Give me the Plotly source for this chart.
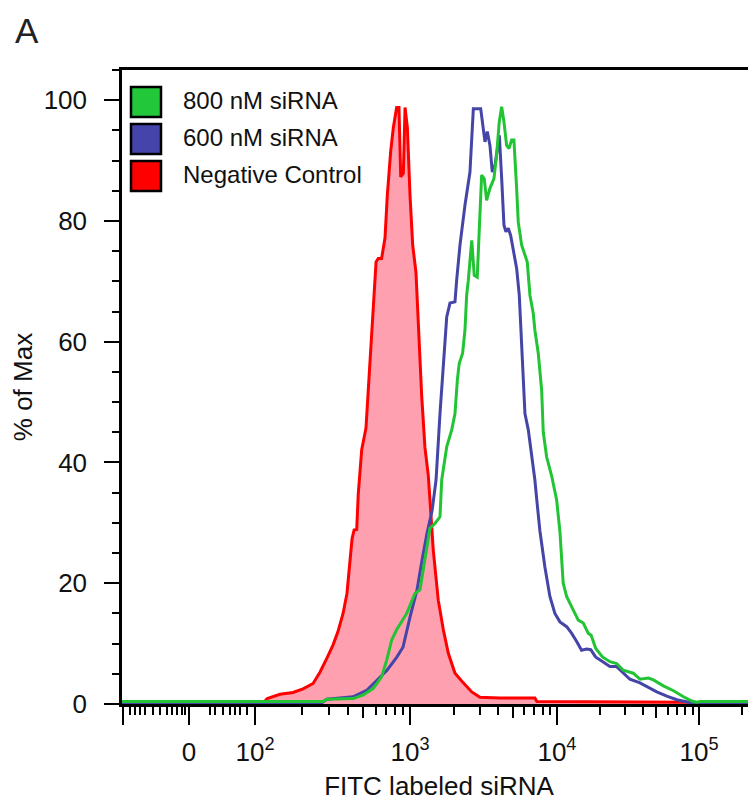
import numpy as np
import plotly.graph_objects as go

# ---------------- data (FITC intensity, % of max) ----------------
neg_fitc = [-105, 111, 120, 145, 176, 204, 237, 263, 291, 319, 343, 370, 392, 410, 423, 436,
            453, 464, 488, 520, 566, 604, 624, 656, 690, 714, 750, 780, 820, 849, 871, 906,
            929, 962, 1000, 1043, 1098, 1138, 1200, 1264, 1331, 1367, 1440, 1557, 1686, 1823,
            2024, 2306, 2631, 2995, 4093, 7079, 7305, 86500, 93750, 250000]
neg_pct = [0, 0, 0.9, 1.6, 1.9, 2.5, 3.4, 5.3, 7.6, 9.8, 12.0, 15.0, 18.3, 23.3, 27.4, 28.8,
           28.9, 34.9, 42.1, 45.7, 62.3, 73.2, 73.8, 73.8, 77.2, 84.3, 91.4, 95.4, 98.8, 98.8, 87.3, 87.9,
           98.8, 95.4, 84.3, 76.0, 71.5, 62.3, 51.2, 42.5, 37.9, 33.8, 25.5, 17.2, 12.3, 8.4,
           5.1, 3.5, 2.0, 1.1, 1.0, 1.0, 0.4, 0.3, 0, 0]

s600_fitc = [-105, 263, 291, 429, 528, 613, 711, 824, 901, 1000, 1116, 1207, 1306, 1413, 1504,
             1600, 1686, 1778, 1871, 2024, 2078, 2188, 2366, 2559, 2698, 2844, 3027, 3238, 3357,
             3500, 3631, 3786, 4055, 4207, 4360, 4498, 4663, 4842, 5045, 5321, 5542, 5754, 6058,
             6383, 6730, 7079, 7278, 7656, 8279, 8954, 9683, 10500, 11700, 12700, 13800, 14900,
             16200, 17300, 18700, 20900, 23600, 26300, 29300, 32600, 38400, 42900, 50400, 59300,
             69700, 84200, 89400, 250000]
s600_pct = [0, 0, 0.8, 1.2, 2.3, 4.0, 5.6, 7.8, 9.4, 14.4, 18.9, 23.8, 28.3, 32.0, 37.1,
            48.1, 56.4, 64.1, 66.4, 66.6, 70.2, 76.0, 82.6, 88.1, 98.6, 98.6, 98.6, 93.1, 94.8,
            92.5, 88.1, 89.2, 94.2, 87.0, 79.3, 78.2, 78.8, 77.6, 74.9, 72.1, 67.7, 59.2, 48.1,
            45.4, 41.5, 37.1, 34.0, 28.7, 22.7, 17.8, 15.0, 13.6, 12.8, 11.7, 10.3, 8.9,
            9.1, 9.0, 7.8, 7.0, 6.2, 6.2, 5.1, 4.1, 3.5, 2.9, 2.0, 1.3,
            0.7, 0.3, 0, 0]

s800_fitc = [-105, 275, 290, 431, 500, 580, 656, 708, 762, 820, 952, 1081, 1169, 1264, 1367,
             1479, 1600, 1644, 1778, 1923, 2024, 2099, 2163, 2281, 2366, 2430, 2494, 2631, 2737,
             2868, 3073, 3201, 3322, 3500, 3726, 3886, 4049, 4207, 4360, 4547, 4714, 4917, 5097,
             5316, 5456, 5754, 6058, 6281, 6551, 6899, 7079, 7462, 7870, 8072, 8511, 9204, 9953,
             10500, 11070, 11700, 12700, 14130, 15320, 16630, 17400, 18760, 20900, 23600, 26300,
             29300, 34400, 38400, 44000, 47700, 56100, 66100, 77700, 89000, 96400, 101500, 250000]
s800_pct = [0.4, 0.4, 0.8, 0.9, 1.5, 2.6, 4.5, 7.3, 10.6, 12.3, 15.0, 18.3, 18.9, 24.4, 29.1,
            29.9, 31.0, 37.1, 42.6, 45.4, 48.1, 53.6, 56.4, 58.1, 61.9, 67.7, 70.2, 76.8, 71.0,
            70.7, 87.6, 87.0, 83.4, 85.4, 87.0, 90.9, 96.4, 98.9, 96.4, 92.5, 92.0, 93.4, 93.4,
            85.4, 79.8, 76.0, 74.3, 73.2, 67.7, 64.7, 61.9, 58.1, 52.0, 45.0, 40.9, 37.8, 33.8,
            28.5, 20.0, 17.8, 16.1, 13.9, 13.4, 11.7, 11.4, 9.2, 7.8, 7.0, 6.7,
            5.6, 5.1, 4.1, 4.3, 4.0, 3.0, 2.2, 1.2, 0.5, 0.3, 0.4, 0.4]

legend_names = ["800 nM siRNA", "600 nM siRNA", "Negative Control"]
major_vals = [-100, 0, 100, 1e3, 1e4, 1e5]
major_text = [" ", "0", "10<sup>2</sup>", "10<sup>3</sup>", "10<sup>4</sup>", "10<sup>5</sup>"]
mid_vals = [5e2, 5e3, 5e4]
lin_minor_vals = [-89, -82, -74, -67, -55, -44, -33, -26, -18, -11, -6, 32, 39, 52, 62, 70, 77, 88]
y_ticks = [0, 20, 40, 60, 80, 100]

# ---------------- display scale (biexponential-like) ----------------
LOG_ANCHORS = [2, 3, 4, 5, 6]
POS_ANCHORS = [2.0, 3.0, 3.948, 4.865, 5.78]
LIN_PER_100 = 66 / 155


def disp(v):
    v = np.asarray(v, dtype=float)
    lin = 2.0 + (v - 100.0) / 100.0 * LIN_PER_100
    lg = np.interp(np.log10(np.clip(v, 100, None)), LOG_ANCHORS, POS_ANCHORS)
    return np.where(v < 100, lin, lg)


log_minor = [k * 10 ** d for d in (2, 3, 4) for k in (2, 3, 4, 6, 7, 8, 9)] + [2e5]
minor_vals = lin_minor_vals + log_minor

X_RANGE = [1.1419, 5.2323]
Y_RANGE = [0, 105]

FONT = "Liberation Sans, Arial, sans-serif"
GREEN, BLUE, RED, PINK = "#22C434", "#4545A8", "#FF0000", "#FFA0B0"
LW = 3

fig = go.Figure()
fig.add_trace(go.Scatter(x=disp(neg_fitc), y=neg_pct, mode="lines", fill="tozeroy",
                         fillcolor=PINK, line=dict(color=RED, width=LW), name=legend_names[2]))
fig.add_trace(go.Scatter(x=disp(s600_fitc), y=s600_pct, mode="lines",
                         line=dict(color=BLUE, width=LW), name=legend_names[1]))
fig.add_trace(go.Scatter(x=disp(s800_fitc), y=s800_pct, mode="lines",
                         line=dict(color=GREEN, width=LW), name=legend_names[0]))
fig.add_trace(go.Scatter(x=[None], y=[None], xaxis="x2", showlegend=False, hoverinfo="skip"))

# page has an 8px body margin, so the figure is 8px smaller than the window
fig.update_layout(
    width=748, height=795,
    margin=dict(l=114, r=0, t=62, b=99),
    plot_bgcolor="white", paper_bgcolor="white",
    showlegend=False,
    font=dict(family=FONT, color="#111111"),
    xaxis=dict(
        range=X_RANGE, showgrid=False, zeroline=False,
        showline=True, linecolor="black", linewidth=2.5, mirror=True,
        tickmode="array", tickvals=list(disp(major_vals)), ticktext=major_text,
        ticks="outside", ticklen=18, tickwidth=2, tickcolor="black",
        tickfont=dict(size=26, family=FONT, color="#111111"),
        ticklabelstandoff=5,
        minor=dict(tickmode="array", tickvals=list(disp(minor_vals)), ticks="outside",
                   ticklen=8, tickwidth=2, tickcolor="black", showgrid=False),
        title=dict(text="FITC labeled siRNA", font=dict(size=26, family=FONT, color="#111111"),
                   standoff=11),
    ),
    xaxis2=dict(
        overlaying="x", anchor="y", side="bottom", range=X_RANGE,
        showgrid=False, zeroline=False, showline=False,
        tickmode="array", tickvals=list(disp(mid_vals)), ticks="outside",
        ticklen=13, tickwidth=2, tickcolor="black", showticklabels=False,
    ),
    yaxis=dict(
        range=Y_RANGE, showgrid=False, zeroline=False,
        showline=True, linecolor="black", linewidth=2.5,
        tickmode="array", tickvals=y_ticks,
        ticks="outside", ticklen=15, tickwidth=2, tickcolor="black",
        tickfont=dict(size=26, family=FONT, color="#111111"),
        ticklabelstandoff=12,
        minor=dict(dtick=5, ticks="outside", ticklen=7, tickwidth=2, tickcolor="black",
                   showgrid=False),
        title=dict(text="% of Max", font=dict(size=26, family=FONT, color="#111111"),
                   standoff=6),
    ),
)

# ---------------- legend (drawn in pixel-based paper coordinates) ----------------
PL, PT, PW, PH = 122, 70, 634, 634


def px_x(p):
    return (p - PL) / PW


def px_y(p):
    return (PT + PH - p) / PH


swatch_colors = ["#22C83A", "#4444AA", "#FF0000"]
centers = [102, 139, 176]
for name, col, cy in zip(legend_names, swatch_colors, centers):
    fig.add_shape(type="rect", xref="paper", yref="paper",
                  x0=px_x(131), x1=px_x(161), y0=px_y(cy + 15), y1=px_y(cy - 15),
                  fillcolor=col, line=dict(color="black", width=2.5))
    fig.add_annotation(xref="paper", yref="paper", x=px_x(181), y=px_y(cy - 2),
                       text=name, showarrow=False, xanchor="left", yanchor="middle",
                       font=dict(size=24, family=FONT, color="#111111"))

fig.add_annotation(xref="paper", yref="paper", x=px_x(13), y=px_y(9),
                   text="A", showarrow=False, xanchor="left", yanchor="top",
                   font=dict(size=35, family=FONT, color="#222222"))

fig.write_html("out.html")
